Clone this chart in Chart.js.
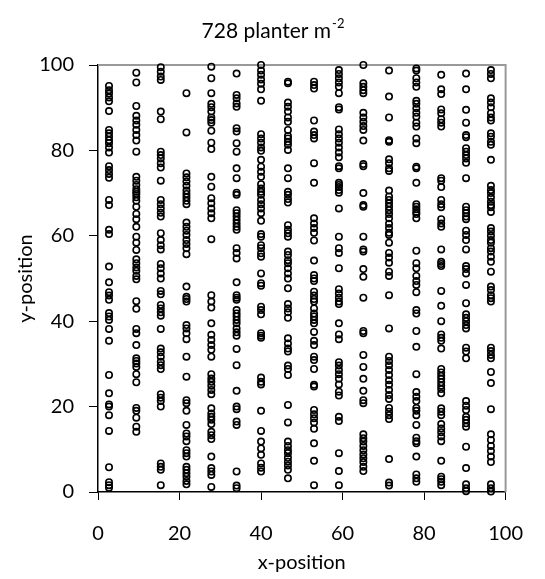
<!DOCTYPE html>
<html>
<head>
<meta charset="utf-8">
<script src="https://cdn.jsdelivr.net/npm/chart.js@4/dist/chart.umd.min.js"></script>
<style>
  html, body { margin: 0; padding: 0; background: #fff; }
  #wrap { width: 545px; height: 579px; }
</style>
</head>
<body>
<div id="wrap"><canvas id="plantChart"></canvas></div>
<script>
// x-position of each plant row
const rowX = [2.7, 9.4, 15.4, 21.7, 27.8, 34.0, 40.0, 46.6, 53.0, 59.1, 65.1, 71.4, 78.1, 84.2, 90.3, 96.4];

// y-positions of the plants in each row
const row01 = [95.1, 94.1, 93.3, 92.4, 91.5, 89.2, 84.8, 84.0, 83.2, 82.4, 81.7, 80.7, 79.5, 76.3, 75.4, 74.5, 73.6, 68.4, 67.2, 61.4, 60.4, 52.8, 49.1, 46.8, 46.0, 45.0, 41.9, 41.1, 40.3, 38.2, 35.4, 27.4, 23.1, 20.5, 20.0, 18.0, 14.3, 5.8, 2.3, 1.6, 1.0];
const row02 = [98.2, 95.9, 90.4, 88.1, 87.0, 86.0, 84.8, 83.6, 82.3, 79.7, 73.8, 72.9, 71.9, 70.9, 70.3, 69.8, 69.0, 68.2, 66.8, 65.1, 63.9, 62.1, 59.8, 58.4, 56.7, 54.5, 53.6, 52.6, 51.8, 50.6, 49.8, 44.7, 42.9, 38.2, 37.2, 34.4, 31.3, 30.7, 30.1, 29.3, 27.6, 25.7, 19.7, 19.0, 17.4, 15.3, 14.1];
const row03 = [99.5, 98.4, 97.3, 96.5, 89.1, 87.3, 79.7, 78.9, 78.1, 77.0, 76.0, 72.9, 68.4, 67.4, 66.4, 65.4, 64.5, 60.6, 59.0, 57.8, 56.8, 53.4, 52.4, 51.2, 50.0, 47.1, 46.3, 43.8, 43.0, 42.1, 41.3, 38.2, 33.6, 32.7, 31.7, 30.5, 29.7, 28.8, 22.9, 22.1, 21.3, 20.0, 6.7, 5.9, 5.2, 1.6];
const row04 = [93.4, 84.2, 74.6, 73.7, 72.7, 71.7, 70.6, 69.8, 69.0, 68.2, 67.4, 63.1, 62.1, 61.2, 60.2, 59.0, 58.1, 57.1, 55.7, 48.1, 45.7, 45.2, 44.6, 39.1, 38.3, 37.2, 35.8, 31.7, 27.0, 21.5, 20.8, 19.0, 15.7, 13.7, 13.0, 11.9, 9.8, 9.1, 8.3, 5.9, 5.2, 4.4, 3.6, 2.6, 1.8];
const row05 = [99.6, 96.9, 93.4, 90.9, 90.1, 89.1, 87.7, 87.1, 86.5, 84.6, 81.8, 80.3, 73.8, 71.5, 68.8, 67.6, 66.4, 65.3, 64.1, 59.2, 46.1, 44.6, 43.2, 39.5, 36.8, 35.6, 34.4, 33.3, 31.7, 27.6, 26.6, 25.8, 24.9, 23.9, 22.9, 19.6, 18.4, 17.6, 16.9, 15.9, 14.1, 13.3, 12.4, 8.3, 5.6, 4.8, 4.0, 1.2];
const row06 = [98.0, 93.0, 92.2, 91.0, 90.2, 85.2, 84.4, 81.7, 79.7, 75.8, 73.5, 70.1, 69.6, 66.0, 65.3, 64.5, 63.7, 62.9, 62.1, 61.4, 57.1, 56.0, 54.7, 49.1, 46.1, 45.5, 45.0, 42.6, 41.8, 41.1, 40.3, 39.5, 38.3, 37.4, 36.6, 33.5, 29.7, 23.7, 20.0, 19.4, 16.5, 15.7, 4.8, 1.5, 0.9];
const row07 = [100.0, 98.7, 97.7, 96.6, 95.6, 94.3, 91.6, 83.8, 82.8, 81.8, 80.7, 79.9, 77.8, 76.2, 75.0, 73.8, 72.1, 71.1, 70.3, 69.6, 68.4, 67.4, 66.4, 65.3, 63.5, 60.4, 59.8, 57.8, 57.1, 55.9, 55.1, 51.2, 48.9, 48.3, 43.4, 42.6, 41.6, 37.2, 36.6, 36.1, 26.8, 25.8, 25.2, 19.0, 14.3, 11.8, 10.2, 8.7, 6.7, 5.7, 4.8];
const row08 = [96.1, 95.7, 91.2, 90.2, 89.1, 87.7, 86.7, 84.8, 83.4, 82.8, 82.0, 81.3, 80.1, 75.8, 73.5, 70.3, 69.6, 68.6, 67.8, 62.5, 61.4, 60.6, 59.8, 56.3, 55.5, 54.3, 53.6, 52.4, 51.2, 50.0, 47.7, 44.0, 43.0, 42.1, 40.8, 36.0, 34.8, 33.6, 32.9, 29.6, 28.8, 27.4, 20.4, 16.3, 11.8, 10.8, 9.8, 9.1, 8.0, 7.1, 6.2, 5.2, 3.2];
const row09 = [96.1, 95.3, 94.5, 87.0, 84.4, 83.6, 82.8, 77.0, 72.4, 64.1, 62.9, 61.8, 60.7, 58.9, 54.2, 50.8, 50.0, 49.4, 46.9, 46.0, 45.2, 44.6, 43.0, 41.8, 41.1, 40.3, 39.5, 37.5, 35.4, 34.4, 31.7, 30.9, 28.8, 25.1, 24.7, 19.2, 18.2, 17.3, 16.3, 14.8, 11.4, 7.3, 1.6];
const row10 = [98.8, 97.9, 96.9, 95.9, 94.9, 93.4, 90.1, 89.6, 84.9, 83.8, 82.8, 81.8, 80.7, 79.5, 78.4, 76.3, 75.8, 72.4, 71.9, 71.4, 70.7, 70.1, 66.4, 59.8, 57.1, 56.0, 52.4, 47.5, 46.5, 45.5, 44.6, 44.0, 39.5, 36.9, 35.8, 30.4, 29.6, 28.6, 27.6, 26.5, 25.2, 23.5, 22.6, 17.6, 16.6, 9.1, 4.9, 1.6];
const row11 = [100.0, 95.7, 94.9, 94.1, 93.4, 88.8, 87.7, 86.7, 85.7, 84.8, 82.3, 76.8, 76.3, 70.0, 67.2, 66.8, 59.8, 56.8, 56.3, 52.2, 50.4, 45.5, 37.7, 37.2, 32.1, 29.3, 26.5, 23.7, 21.5, 20.8, 13.5, 12.6, 11.8, 10.8, 9.8, 8.8, 7.9, 7.0, 5.9, 4.9];
const row12 = [98.7, 92.6, 87.7, 82.4, 82.0, 77.9, 77.0, 75.8, 75.2, 70.6, 69.2, 68.4, 67.6, 66.8, 66.0, 65.1, 64.1, 62.8, 61.8, 60.7, 60.2, 58.4, 56.0, 54.9, 53.7, 51.6, 50.6, 46.1, 38.3, 31.7, 30.7, 29.7, 28.6, 27.4, 26.2, 25.1, 23.9, 22.7, 21.8, 19.7, 18.8, 18.0, 17.1, 7.7, 2.2, 1.5];
const row13 = [99.2, 98.7, 96.9, 95.9, 94.9, 91.6, 90.9, 89.9, 88.8, 87.9, 86.5, 85.6, 82.8, 81.7, 76.2, 75.8, 72.4, 67.4, 66.8, 66.2, 65.6, 65.1, 64.1, 56.5, 53.6, 52.4, 50.6, 49.4, 48.5, 46.8, 42.6, 41.8, 37.7, 34.0, 27.6, 23.4, 22.3, 21.3, 19.7, 19.0, 18.0, 15.7, 12.7, 11.9, 11.4, 8.3, 4.1, 3.2, 2.4];
const row14 = [97.7, 94.3, 93.2, 89.6, 88.7, 87.3, 86.5, 85.6, 73.5, 72.9, 71.4, 68.4, 67.4, 66.7, 63.9, 62.9, 62.1, 56.8, 53.9, 53.4, 52.9, 47.1, 43.6, 40.0, 36.9, 36.1, 35.4, 33.6, 28.8, 28.0, 27.2, 26.5, 25.7, 24.9, 24.1, 23.1, 19.6, 18.8, 18.0, 15.9, 14.9, 14.0, 13.0, 11.9, 7.3, 3.6, 3.0, 2.4, 1.6];
const row15 = [98.0, 94.3, 89.5, 86.5, 83.6, 83.1, 80.5, 79.7, 78.9, 78.1, 77.1, 73.5, 66.8, 66.0, 65.3, 64.5, 63.9, 61.2, 60.2, 59.0, 56.8, 52.9, 52.2, 51.2, 48.5, 44.2, 41.6, 40.8, 40.0, 39.1, 38.3, 33.8, 32.9, 31.3, 21.3, 20.2, 19.2, 17.6, 16.9, 16.1, 15.3, 10.6, 5.6, 1.8, 0.9, 0.2];
const row16 = [98.8, 97.9, 96.9, 92.2, 91.2, 90.1, 88.7, 87.7, 87.0, 84.0, 83.2, 82.0, 81.3, 77.8, 71.7, 70.7, 70.0, 69.0, 68.0, 67.2, 66.7, 65.6, 61.8, 61.0, 60.0, 59.0, 58.4, 57.1, 56.3, 55.1, 53.9, 51.6, 48.1, 47.3, 46.1, 45.4, 44.6, 33.8, 33.0, 32.1, 31.3, 28.1, 25.5, 19.4, 13.5, 12.2, 10.8, 9.6, 8.3, 7.0, 1.8, 0.9, 0.1];

const rows = [row01, row02, row03, row04, row05, row06, row07, row08,
              row09, row10, row11, row12, row13, row14, row15, row16];

const axisTicks = [0, 20, 40, 60, 80, 100];

const points = [];
rows.forEach((ys, i) => {
  ys.forEach(y => points.push({ x: rowX[i], y: y }));
});

const fontFamily = 'Lato, "Open Sans", sans-serif';

// gray frame on top and right side of the plot area
const frame = {
  id: 'frame',
  beforeDatasetsDraw(chart) {
    const a = chart.chartArea;
    const ctx = chart.ctx;
    ctx.save();
    ctx.strokeStyle = '#999';
    ctx.lineWidth = 2;
    ctx.beginPath();
    ctx.moveTo(a.left, a.top);
    ctx.lineTo(a.right, a.top);
    ctx.lineTo(a.right, a.bottom);
    ctx.stroke();
    ctx.restore();
  }
};

// title centred on the whole canvas, with a real superscript
const pageTitle = {
  id: 'pageTitle',
  afterDraw(chart) {
    const ctx = chart.ctx;
    const main = '728 planter m';
    const sup = '-2';
    ctx.save();
    ctx.fillStyle = '#000';
    ctx.textBaseline = 'alphabetic';
    ctx.font = '21px ' + fontFamily;
    const w1 = ctx.measureText(main).width;
    ctx.font = '13px ' + fontFamily;
    const w2 = ctx.measureText(sup).width;
    const x0 = chart.width / 2 - (w1 + w2) / 2;
    ctx.font = '21px ' + fontFamily;
    ctx.fillText(main, x0, 38);
    ctx.font = '13px ' + fontFamily;
    ctx.fillText(sup, x0 + w1 + 1, 28);
    ctx.restore();
  }
};

const ctx = document.getElementById('plantChart').getContext('2d');
new Chart(ctx, {
  type: 'scatter',
  data: {
    datasets: [{
      data: points,
      pointRadius: 3.2,
      pointBorderWidth: 1.6,
      borderColor: '#000',
      backgroundColor: 'rgba(0,0,0,0)',
      clip: false
    }]
  },
  options: {
    responsive: true,
    maintainAspectRatio: false,
    animation: false,
    layout: { padding: { left: 0, right: 25, top: 65, bottom: 0 } },
    plugins: {
      legend: { display: false },
      tooltip: { enabled: false },
      title: { display: false }
    },
    scales: {
      x: {
        type: 'linear',
        min: 0,
        max: 100,
        afterBuildTicks: s => { s.ticks = axisTicks.map(v => ({ value: v })); },
        afterFit: s => { s.height = 87; },
        grid: { drawOnChartArea: false, drawTicks: true, tickLength: 8, color: '#000', lineWidth: 1 },
        border: { color: '#000', width: 1.5 },
        ticks: { color: '#000', padding: 22, maxRotation: 0, font: { family: fontFamily, size: 20 } },
        title: { display: true, text: 'x-position', color: '#000', padding: { top: 0, bottom: 4 }, font: { family: fontFamily, size: 20 } }
      },
      y: {
        type: 'linear',
        min: 0,
        max: 100,
        afterBuildTicks: s => { s.ticks = axisTicks.map(v => ({ value: v })); },
        afterFit: s => { s.width = 98; },
        grid: { drawOnChartArea: false, drawTicks: true, tickLength: 9, color: '#000', lineWidth: 1 },
        border: { color: '#000', width: 1.5 },
        ticks: { color: '#000', padding: 15, font: { family: fontFamily, size: 20 } },
        title: { display: true, text: 'y-position', color: '#000', padding: { top: 14, bottom: 0 }, font: { family: fontFamily, size: 20 } }
      }
    }
  },
  plugins: [frame, pageTitle]
});
</script>
</body>
</html>
